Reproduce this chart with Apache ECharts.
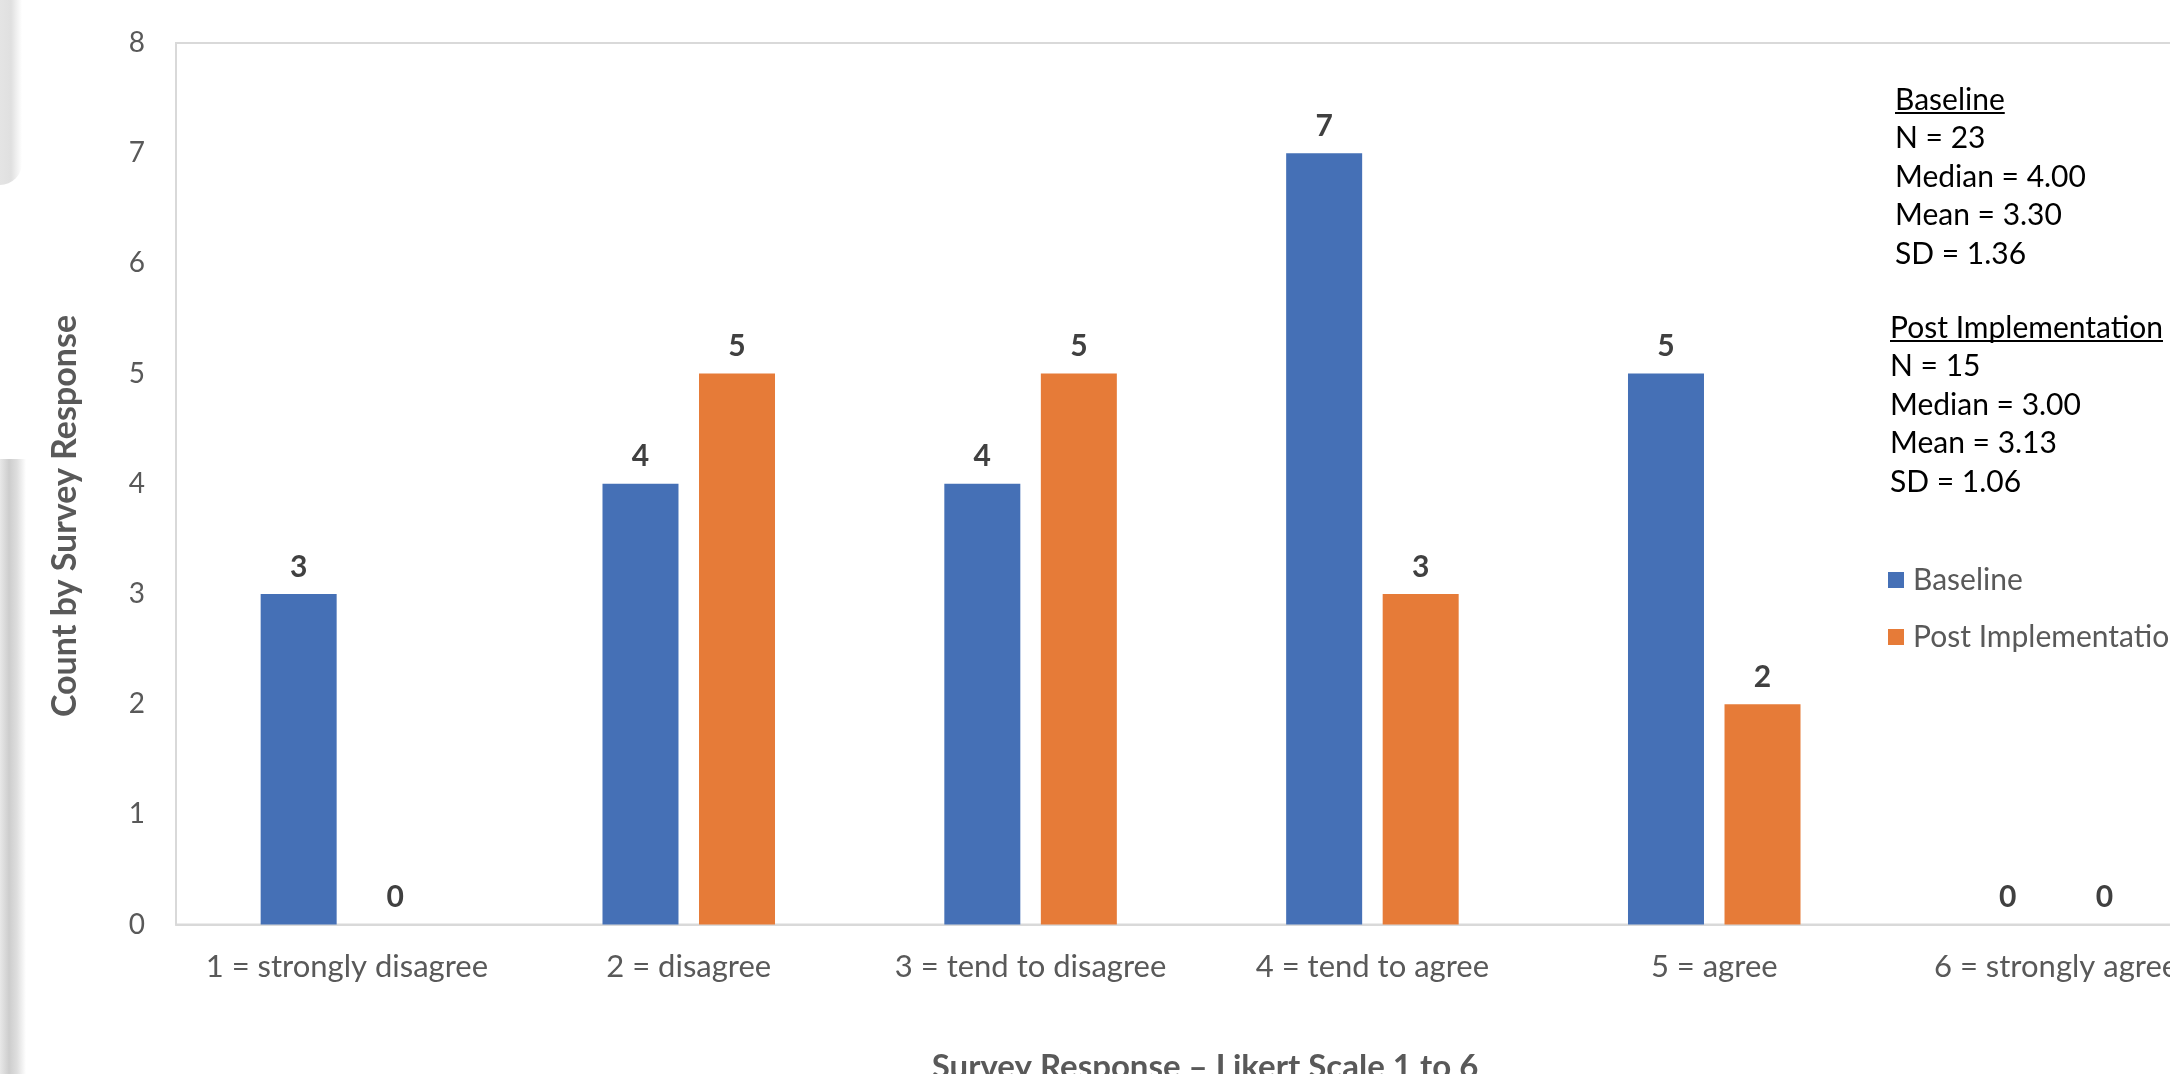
<!DOCTYPE html>
<html lang="en">
<head>
  <meta charset="UTF-8">
  <title>Survey Response</title>
  <style>
    html, body { margin: 0; padding: 0; background: #fff; overflow: hidden; }
    #wrap { width: 2170px; height: 1074px; overflow: hidden; }
  </style>
</head>
<body>
<!-- the plot runs past the right edge in the original, so the chart is wider than the frame -->
<div id="wrap">
  <div id="main" style="width: 2300px;height:1074px;"></div>
</div>
<script src="https://cdn.jsdelivr.net/npm/echarts@6/dist/echarts.min.js"></script>
<script type="text/javascript">
  const categories = ['1 = strongly disagree', '2 = disagree', '3 = tend to disagree', '4 = tend to agree', '5 = agree', '6 = strongly agree']
  const baseline = [3, 4, 4, 7, 5, 0]
  const postImpl = [0, 5, 5, 3, 2, 0]
  const yTicks = [0, 8, 1] // min, max, step

  const baselineStats = ['N = 23', 'Median = 4.00', 'Mean = 3.30', 'SD = 1.36']
  const postStats = ['N = 15', 'Median = 3.00', 'Mean = 3.13', 'SD = 1.06']

  const FONT = 'Lato, "Open Sans", sans-serif'
  const GREY = '#595959'

  // measure text so the headings can be underlined
  const ctx = document.createElement('canvas').getContext('2d')
  function textWidth(str, size, weight) {
    ctx.font = (weight || 'normal') + ' ' + size + 'px ' + FONT
    return ctx.measureText(str).width
  }

  const statSize = 30
  const statGap = 38.5

  function statBlock(title, lines, x, y) {
    const els = []
    els.push({
      type: 'text', x: x, y: y,
      style: { text: title, font: 'normal ' + statSize + 'px ' + FONT, fill: '#000', verticalAlign: 'middle' }
    })
    const w = textWidth(title, statSize)
    els.push({
      type: 'line',
      shape: { x1: x, y1: y + 13, x2: x + w, y2: y + 13 },
      style: { stroke: '#000', lineWidth: 2 }
    })
    lines.forEach((t, i) => {
      els.push({
        type: 'text', x: x, y: y + statGap * (i + 1),
        style: { text: t, font: 'normal ' + statSize + 'px ' + FONT, fill: '#000', verticalAlign: 'middle' }
      })
    })
    return els
  }

  const Chart = echarts.init(document.getElementById('main'))

  const barLabel = { show: true, position: 'top', distance: 12, color: '#404040', fontWeight: 'bold', fontSize: 30 }

  const option = {
    backgroundColor: '#fff',
    textStyle: { fontFamily: FONT },
    animation: false,
    grid: {
      left: 176, top: 43, width: 2051, height: 881.5,
      show: true, borderColor: '#d9d9d9', borderWidth: 2
    },
    legend: {
      orient: 'vertical',
      left: 1888, top: 564,
      padding: 0,
      itemWidth: 16, itemHeight: 16,
      itemGap: 25,
      icon: 'rect',
      textStyle: { color: GREY, fontSize: statSize, lineHeight: 32, padding: [0, 0, 0, 4] },
      data: ['Baseline', 'Post Implementation']
    },
    xAxis: {
      type: 'category',
      data: categories,
      axisLine: { lineStyle: { color: '#d9d9d9', width: 2 } },
      axisTick: { show: false },
      axisLabel: { color: GREY, fontSize: 31, margin: 27, interval: 0 }
    },
    yAxis: {
      type: 'value',
      min: yTicks[0], max: yTicks[1], interval: yTicks[2],
      axisLine: { show: false },
      axisTick: { show: false },
      splitLine: { show: false },
      axisLabel: { color: GREY, fontSize: 28, margin: 31 }
    },
    series: [{
      name: 'Baseline',
      type: 'bar',
      data: baseline,
      barWidth: 76,
      barGap: '27%',
      itemStyle: { color: '#4570B6' },
      label: barLabel
    }, {
      name: 'Post Implementation',
      type: 'bar',
      data: postImpl,
      barWidth: 76,
      barGap: '27%',
      itemStyle: { color: '#E67B38' },
      label: barLabel
    }],
    graphic: [
      // window shadow strips on the left edge
      {
        type: 'rect', shape: { x: 0, y: 0, width: 22, height: 185, r: [0, 0, 22, 0] },
        style: { fill: new echarts.graphic.LinearGradient(0, 0, 1, 0, [
          { offset: 0, color: '#e4e4e4' }, { offset: 0.5, color: '#e0e0e0' }, { offset: 1, color: '#ffffff' }]) },
        silent: true
      },
      {
        type: 'rect', shape: { x: 0, y: 459, width: 26, height: 615 },
        style: { fill: new echarts.graphic.LinearGradient(0, 0, 1, 0, [
          { offset: 0, color: '#e8e8e8' }, { offset: 0.35, color: '#cdcdcd' }, { offset: 0.65, color: '#dedede' }, { offset: 1, color: '#ffffff' }]) },
        silent: true
      },
      {
        type: 'text', x: 65, y: 516, rotation: Math.PI / 2,
        style: { text: 'Count by Survey Response', font: 'bold 34px ' + FONT, fill: GREY, align: 'center', verticalAlign: 'middle' }
      },
      {
        type: 'text', x: 1205, y: 1067,
        style: { text: 'Survey Response \u2013 Likert Scale 1 to 6', font: 'bold 33px ' + FONT, fill: GREY, align: 'center', verticalAlign: 'middle' }
      }
    ].concat(statBlock('Baseline', baselineStats, 1895, 100))
     .concat(statBlock('Post Implementation', postStats, 1890, 328))
  }

  Chart.setOption(option)
</script>
</body>
</html>
